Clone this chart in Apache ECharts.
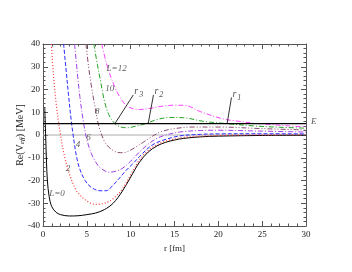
<!DOCTYPE html>
<html><head><meta charset="utf-8">
<script src="https://cdn.jsdelivr.net/npm/echarts@6/dist/echarts.min.js"></script>
<style>html,body{margin:0;padding:0;background:#fff}#c{width:352px;height:272px}</style>
</head><body><div id="c"></div>
<script>
// ---- data ----
const xMin = 0, xMax = 30, xStep = 5;
const yMin = -40, yMax = 40, yStep = 10;
const energyE = 5;
const xTitle = 'r [fm]';
const yTitle = ['Re(V', 'eff', ') [MeV]'];

const rL0 = [0.2,0.3,0.4,0.5,0.7,1,1.5,2,3,4,5,6,7,8,9,10,11,12,13,14,15,16,18,20,25,30];
const vL0 = [12,0,-12,-20,-27,-31.5,-34,-35,-35.6,-35.5,-35,-34.3,-32.8,-30,-25,-18.5,-12,-7.5,-4.8,-3.2,-2.2,-1.5,-0.8,-0.5,-0.2,-0.1];

const rL2 = [0.95,1.2,1.5,1.8,2,2.4,3,3.5,4,5,6,7,8,9,10,11,12,13,14,16,18,20,25,30];
const vL2 = [40,26,14,5,0,-8.5,-17,-22,-25.5,-29,-30.5,-30,-28,-24,-17.5,-11,-6.8,-4.2,-2.7,-1.1,-0.5,-0.2,0.05,0.15];

const rL4 = [2.35,2.6,2.9,3.2,3.4,3.8,4.2,4.8,5.5,6.5,7.2,8,8.6,9.5,10.3,11,12.2,13,14.1,15.6,18,20,25,30];
const vL4 = [40,30,18,7,1,-9,-15,-20,-23,-24.5,-24.5,-22,-19.5,-15.5,-12.4,-9.5,-5.1,-3.3,-1.8,-0.4,0.3,0.5,0.55,0.5];

const rL6 = [3.6,3.9,4.2,4.6,5,5.5,6,6.5,7.5,8,9,10,11,12,13,14,15.6,18,20,25,30];
const vL6 = [40,28,17,6,-2,-8,-11.8,-14.3,-16.3,-16.2,-14.8,-11.5,-7.5,-4,-1.5,0,1.3,2,2.1,1.7,1.3];

const rL8 = [4.9,5.2,5.5,5.9,6.3,6.7,7.2,8,8.8,9.5,10.5,11.5,12.5,13.5,15,17,20,25,30];
const vL8 = [40,30,22,13,5,0,-4,-6.8,-7.8,-7.5,-5.5,-3,-0.5,1.5,2.8,3.5,3.5,2.8,2.2];

const rL10 = [5.8,6.2,6.6,7,7.5,8.2,8.8,9.6,10.5,11.8,13,14.5,16,18.3,21,24,27,30];
const vL10 = [40,31,23,15,9,5,3.6,3.2,3.8,5.1,6.8,7.7,7.6,6,5,4,3.4,3];

const rL12 = [6.7,7.2,7.6,8.2,8.8,9.5,10.3,11,12.2,13.5,15,16.2,18,20.6,22,24,26,28,30];
const vL12 = [40,32,27,21,16.5,13,11.5,11.2,11.7,12.6,13.1,13,10.2,7,6.2,5.2,4.6,4,3.6];

// curve labels: text, r, V
const curveLabelText = ['L=0','2','4','6','8','10','L=12'];
const curveLabelR = [1.6,2.85,4.0,5.2,6.2,7.6,8.4];
const curveLabelV = [-25.6,-14.6,-4.4,-1.2,10.2,20.5,29.3];

// turning-point pointers r3, r2, r1: bottom r on E, top (r, V)
const ptrNames = ['3','2','1'];
const ptrR0 = [8.2,12.0,21.0];
const ptrR1 = [10.3,12.6,21.5];
const ptrV1 = [17.6,17.6,16.5];

// ---- chart ----
const serif = '"Liberation Serif","DejaVu Serif",serif';
const zip = (a,b) => a.map((v,i)=>[v,b[i]]);
const curveDefs = [
  {r:rL0,v:vL0,color:'#000000',type:'solid',w:1},
  {r:rL2,v:vL2,color:'#ff3a3a',type:[1,2],w:1.2},
  {r:rL4,v:vL4,color:'#2a2aff',type:[4,2],w:1},
  {r:rL6,v:vL6,color:'#a040e8',type:[5,2,1,2],w:1},
  {r:rL8,v:vL8,color:'#8a4a70',type:[5,2,1,2,1,2],w:1},
  {r:rL10,v:vL10,color:'#22a022',type:[5,2,1,2],w:1},
  {r:rL12,v:vL12,color:'#ff40ff',type:[5,2,1,2],w:1}
];
const series = [];
series.push({type:'line',data:[[xMin,0],[xMax,0]],symbol:'none',silent:true,
  lineStyle:{color:'#aaaaaa',width:1},z:1});
curveDefs.forEach(c=>series.push({type:'line',data:zip(c.r,c.v),symbol:'none',smooth:0.35,
  lineStyle:{color:c.color,type:c.type,width:c.w},z:3}));
series.push({type:'line',data:[[xMin,energyE],[xMax,energyE]],symbol:'none',
  lineStyle:{color:'#000',width:1.4},z:4});
ptrNames.forEach((n,i)=>series.push({type:'line',symbol:'none',z:5,
  data:[[ptrR0[i],energyE],[ptrR1[i],ptrV1[i]]],
  lineStyle:{color:'#000',width:0.8}}));
series.push({type:'scatter',symbolSize:0,z:6,
  data:ptrNames.map((n,i)=>({value:[ptrR1[i],ptrV1[i]],name:n})),
  label:{show:true,position:[1,-11],formatter:p=>'{a|r}{b|'+p.name+'}',
    rich:{a:{fontFamily:serif,fontStyle:'italic',fontSize:10,color:'#222'},
      b:{fontFamily:serif,fontStyle:'italic',fontSize:8,color:'#222',padding:[7,0,0,1]}}}});
series.push({type:'scatter',symbolSize:0,z:6,
  data:curveLabelText.map((t,i)=>({value:[curveLabelR[i],curveLabelV[i]],name:t})),
  label:{show:true,position:'inside',formatter:p=>p.name,fontFamily:serif,fontStyle:'italic',fontSize:9,color:'#333'}});
series.push({type:'scatter',symbolSize:0,z:6,clip:false,data:[{value:[xMax,energyE],name:'E'}],
  label:{show:true,position:'right',distance:5,offset:[0,-2],formatter:'E',fontFamily:serif,fontStyle:'italic',fontSize:9,color:'#333'}});

const axisLineC = '#555';
function axisCommon(extra){
  return Object.assign({
    axisLine:{onZero:false,lineStyle:{color:axisLineC}},
    axisTick:{inside:true,length:5,lineStyle:{color:axisLineC}},
    minorTick:{show:true,splitNumber:5,length:2.5,lineStyle:{color:axisLineC}},
    splitLine:{show:false}
  },extra);
}
const chart = echarts.init(document.getElementById('c'),null,{renderer:'canvas'});
chart.setOption({
  animation:false,
  backgroundColor:'#fff',
  grid:{left:43,right:46,top:44,bottom:46},
  graphic:[{type:'text',x:20,y:135,rotation:Math.PI/2,z:10,
    style:{text:'{n|'+yTitle[0]+'}{s|'+yTitle[1]+'}{n|'+yTitle[2]+'}',align:'center',verticalAlign:'middle',
      rich:{n:{fontFamily:serif,fontSize:10,fill:'#222'},
        s:{fontFamily:serif,fontStyle:'italic',fontSize:7,fill:'#222',padding:[5,0,0,0]}}}}],
  xAxis:[
    axisCommon({type:'value',min:xMin,max:xMax,interval:xStep,position:'bottom',
     name:xTitle,nameLocation:'middle',nameGap:18,
     nameTextStyle:{fontFamily:serif,fontSize:9,color:'#222'},
     axisLabel:{fontFamily:serif,fontSize:9,color:'#222',margin:4}}),
    axisCommon({type:'value',min:xMin,max:xMax,interval:xStep,position:'top',
     axisLabel:{show:false}})
  ],
  yAxis:[
    axisCommon({type:'value',min:yMin,max:yMax,interval:yStep,position:'left',
     axisLabel:{fontFamily:serif,fontSize:9,color:'#222',margin:3}}),
    axisCommon({type:'value',min:yMin,max:yMax,interval:yStep,position:'right',
     axisLabel:{show:false}})
  ],
  series:series
});
</script></body></html>
